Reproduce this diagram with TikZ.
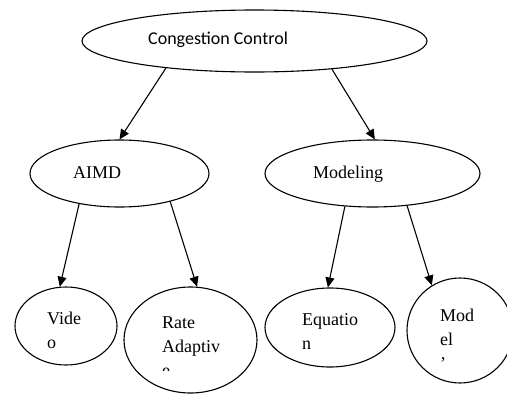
\documentclass[tikz,border=0pt]{standalone}
\usepackage{fontspec}
\setmainfont{Liberation Serif}
\newfontfamily\calibri{Carlito}
\usetikzlibrary{arrows.meta,positioning,shapes.geometric}

\begin{document}
\begin{tikzpicture}[
  x=1pt,y=-1pt,
  oval/.style={draw,ellipse,line width=1.1pt,inner sep=0pt},
  txt/.style={inner sep=0pt,anchor=base west,align=left,font=\fontsize{18}{24}\selectfont},
  arr/.style={-{Triangle[length=10pt,width=9pt]},line width=1.1pt}
]
\useasboundingbox (0,0) rectangle (507,394);
% ovals
\node[oval,minimum width=345pt,minimum height=62pt] (cc) at (254.5,41) {};
\node[oval,minimum width=179pt,minimum height=67pt] (aimd) at (119.5,173.5) {};
\node[oval,minimum width=215pt,minimum height=67pt] (mdl) at (372.5,173.5) {};
\node[oval,minimum width=102pt,minimum height=78pt] (vid) at (66,326) {};
\node[oval,minimum width=133pt,minimum height=106pt] (rate) at (190.5,340) {};
\node[oval,minimum width=130pt,minimum height=79pt] (eqn) at (330,327.5) {};
\node[oval,minimum width=106pt,minimum height=105pt] (mod) at (460,330.5) {};
% labels (base = last line)
\node[txt,font=\calibri\fontsize{18}{24}\selectfont] (cc-t) at (148,44) {Congestion Control};
\node[txt] (aimd-t) at (73,178) {AIMD};
\node[txt] (mdl-t) at (313,178) {Modeling};
\node[txt] (vid-t) at (47,348) {Vide\\o};
\begin{scope}
  \clip (124,287) rectangle (257,370.5);
  \node[txt] (rate-t) at (162,376) {Rate\\Adaptiv\\e};
\end{scope}
\node[txt] (eqn-t) at (302,349) {Equatio\\n};
\node[txt] (mod-t) at (440,369) {Mod\\el\\’};
% arrows
\draw[arr] (cc.197) -- (aimd.north);
\draw[arr] (cc.340) -- (mdl.86);
\draw[arr] (aimd.217) -- (vid.99);
\draw[arr] (aimd.331) -- (rate.83);
\draw[arr] (mdl.230) -- (eqn.93);
\draw[arr] (mdl.317) -- (mod.122);
\end{tikzpicture}
\end{document}
